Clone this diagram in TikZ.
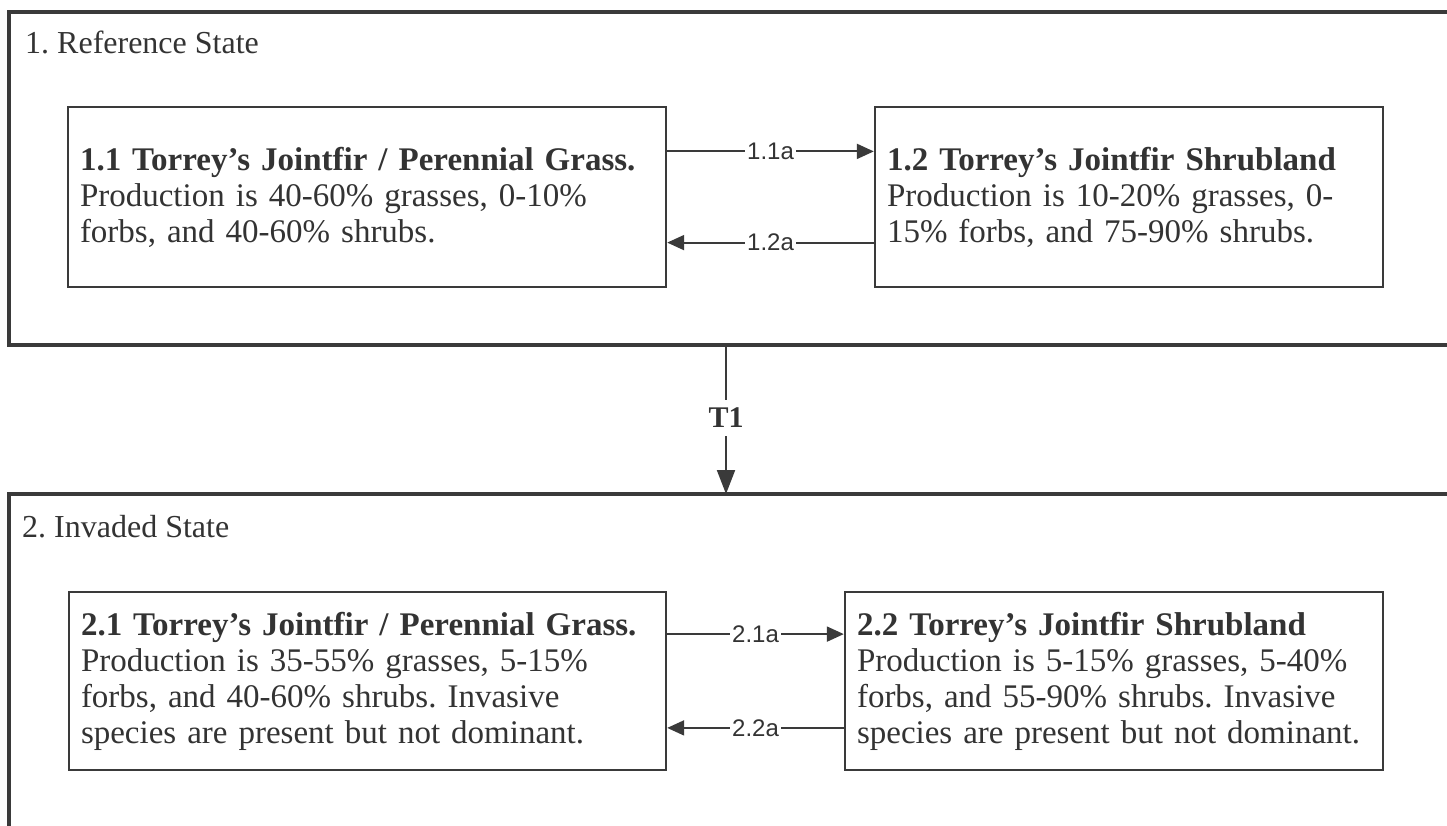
\documentclass[tikz,border=0pt]{standalone}
\usepackage{fontspec}
\setmainfont{Liberation Serif}
\newfontfamily\labelfont{Liberation Sans}
\usetikzlibrary{calc,arrows.meta}
\frenchspacing
\definecolor{ink}{HTML}{333333}
\definecolor{edge}{HTML}{3A3A3A}
\tikzset{
  outerbox/.style={draw=edge,line width=3.2pt},
  statebox/.style={draw=edge,line width=2.4pt,align=left,inner xsep=12pt,inner ysep=0pt,
     text=ink,font=\fontsize{33}{36}\selectfont},
  statetitle/.style={anchor=west,text=ink,inner sep=0pt,font=\fontsize{32}{36}\selectfont},
  conn/.style={draw=edge,line width=2pt,-{Triangle[length=17pt,width=15pt]}},
  tconn/.style={draw=edge,line width=2pt,-{Triangle[length=24pt,width=18pt]}},
  pathlabel/.style={fill=white,text=ink,inner xsep=2pt,inner ysep=1pt,font=\labelfont\fontsize{24}{26}\selectfont},
  tlabel/.style={fill=white,text=ink,inner xsep=2pt,inner ysep=8pt,font=\bfseries\fontsize{30}{30}\selectfont}
}
\begin{document}
\begin{tikzpicture}[x=1pt,y=-1pt]
\useasboundingbox (0,0) rectangle (1447,825);
\clip (0,0) rectangle (1447,825);
\fill[white] (0,0) rectangle (1447,825);
% outer state boxes
\draw[outerbox] (9,12) rectangle (1470,345);
\draw[outerbox] (9,494) rectangle (1470,860);
\coordinate (s1bot) at (726,345);
\coordinate (s2top) at (726,494);
\node[statetitle] (t1) at (25,42) {1. Reference State};
\node[statetitle] (t2) at (22,527) {2. Invaded State};
% community phase boxes
\node[statebox,minimum width=598pt,text width=574pt,minimum height=180pt] (b11) at (367,197)
 {\textbf{1.1 Torrey’s Jointfir / Perennial Grass.}\\
  Production is 40-60\% grasses, 0-10\%\\
  forbs, and 40-60\% shrubs.};
\node[statebox,minimum width=508pt,text width=484pt,minimum height=180pt] (b12) at (1129,197)
 {\textbf{1.2 Torrey’s Jointfir Shrubland}\\
  Production is 10-20\% grasses, 0-\\
  15\% forbs, and 75-90\% shrubs.};
\node[statebox,minimum width=597pt,text width=573pt,minimum height=178pt] (b21) at (367.5,681)
 {\textbf{2.1 Torrey’s Jointfir / Perennial Grass.}\\
  Production is 35-55\% grasses, 5-15\%\\
  forbs, and 40-60\% shrubs. Invasive\\
  species are present but not dominant.};
\node[statebox,minimum width=538pt,text width=514pt,minimum height=178pt] (b22) at (1114,681)
 {\textbf{2.2 Torrey’s Jointfir Shrubland}\\
  Production is 5-15\% grasses, 5-40\%\\
  forbs, and 55-90\% shrubs. Invasive\\
  species are present but not dominant.};
% pathways
\draw[conn] ($(b11.north east)!0.25!(b11.south east)$) -- node[pathlabel]{1.1a} ($(b12.north west)!0.25!(b12.south west)$);
\draw[conn] ($(b12.north west)!0.75!(b12.south west)$) -- node[pathlabel]{1.2a} ($(b11.north east)!0.75!(b11.south east)$);
\draw[conn] ($(b21.north east)!0.24!(b21.south east)$) -- node[pathlabel]{2.1a} ($(b22.north west)!0.24!(b22.south west)$);
\draw[conn] ($(b22.north west)!0.76!(b22.south west)$) -- node[pathlabel]{2.2a} ($(b21.north east)!0.76!(b21.south east)$);
% transition
\draw[tconn] (s1bot) -- node[tlabel,pos=0.49]{T1} (s2top);
\end{tikzpicture}
\end{document}
